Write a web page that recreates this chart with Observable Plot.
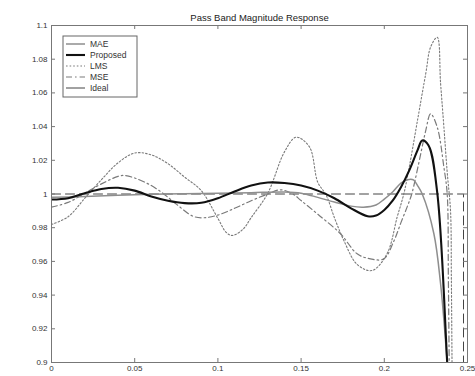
<!DOCTYPE html>
<html><head><meta charset="utf-8">
<script src="https://cdn.jsdelivr.net/npm/d3@7"></script>
<script src="https://cdn.jsdelivr.net/npm/@observablehq/plot@0.6"></script>
<style>body{margin:0;background:#fff;}</style>
</head><body><div id="chart"></div>
<script>
const title = "Pass Band Magnitude Response";
const seriesNames = ["MAE", "Proposed", "LMS", "MSE", "Ideal"];
const xTicks = [0, 0.05, 0.1, 0.15, 0.2, 0.25];
const xTickLabels = ["0", "0.05", "0.1", "0.15", "0.2", "0.25"];
const yTicks = [0.9, 0.92, 0.94, 0.96, 0.98, 1, 1.02, 1.04, 1.06, 1.08, 1.1];
const yTickLabels = ["0.9", "0.92", "0.94", "0.96", "0.98", "1", "1.02", "1.04", "1.06", "1.08", "1.1"];

const maeX = [0, 0.02, 0.04, 0.06, 0.08, 0.1, 0.12, 0.14, 0.15, 0.16, 0.17, 0.18, 0.1875, 0.195, 0.2, 0.205, 0.21, 0.214, 0.2175, 0.22, 0.2228, 0.2298, 0.2338, 0.2378, 0.24];
const maeY = [0.998, 0.9985, 0.9992, 0.9998, 1.0002, 1.0004, 1.0008, 1.0012, 1.0005, 0.998, 0.9952, 0.9928, 0.9922, 0.9935, 0.997, 1.0012, 1.0065, 1.0085, 1.0084, 1.005, 1.0, 0.9764, 0.9469, 0.9, 0.87];

const propX = [0, 0.01, 0.02, 0.03, 0.04, 0.05, 0.06, 0.07, 0.08, 0.09, 0.1, 0.11, 0.12, 0.13, 0.14, 0.15, 0.16, 0.17, 0.18, 0.19, 0.195, 0.2, 0.205, 0.21, 0.215, 0.22, 0.2228, 0.2266, 0.2318, 0.2378, 0.24];
const propY = [0.9967, 0.9975, 1.0005, 1.003, 1.0037, 1.002, 0.9985, 0.996, 0.9946, 0.9948, 0.9975, 1.0015, 1.005, 1.0068, 1.0065, 1.005, 1.002, 0.9975, 0.9915, 0.9868, 0.9872, 0.9905, 0.996, 1.004, 1.014, 1.026, 1.0318, 1.0288, 1.0009, 0.9, 0.86];

const lmsX = [0, 0.01, 0.02, 0.03, 0.04, 0.05, 0.06, 0.07, 0.08, 0.09, 0.1, 0.105, 0.1086, 0.115, 0.12, 0.13, 0.14, 0.147, 0.155, 0.16, 0.165, 0.17, 0.1757, 0.1837, 0.1927, 0.2017, 0.2077, 0.2117, 0.215, 0.22, 0.225, 0.2278, 0.2318, 0.2338, 0.2358, 0.2378, 0.2398, 0.2403, 0.2407, 0.241];
const lmsY = [0.9819, 0.9865, 0.9975, 1.0085, 1.0185, 1.0243, 1.0232, 1.018, 1.010, 1.002, 0.9855, 0.9772, 0.9754, 0.979, 0.986, 1.0005, 1.025, 1.0337, 1.028, 1.007, 0.9995, 0.986, 0.9724, 0.9582, 0.9546, 0.9647, 0.9862, 1.0, 1.016, 1.044, 1.072, 1.0871, 1.093, 1.066, 1.040, 1.013, 0.99, 0.95, 0.9, 0.85];

const mseX = [0, 0.01, 0.02, 0.03, 0.04, 0.0435, 0.05, 0.06, 0.0675, 0.075, 0.085, 0.0916, 0.1, 0.11, 0.12, 0.13, 0.1376, 0.145, 0.15, 0.16, 0.1737, 0.1837, 0.1917, 0.1997, 0.2057, 0.21, 0.214, 0.2165, 0.22, 0.225, 0.2278, 0.2318, 0.2358, 0.2378, 0.2385, 0.239, 0.2395];
const mseY = [0.9922, 0.995, 1.0005, 1.006, 1.0105, 1.011, 1.0095, 1.005, 1.0, 0.994, 0.9868, 0.9859, 0.9875, 0.9915, 0.996, 1.0, 1.0025, 1.0, 0.9961, 0.988, 0.9764, 0.9645, 0.9615, 0.9615, 0.972, 0.983, 0.993, 1.0, 1.015, 1.038, 1.0476, 1.0397, 1.016, 1.0, 0.95, 0.9, 0.85];

const idealX = [0, 0.2476, 0.2476];
const idealY = [1, 1, 0.85];

const styles = {
  MAE:      {stroke: "#8e8e8e", strokeWidth: 1.5, dash: null},
  Proposed: {stroke: "#111111", strokeWidth: 2.1, dash: null},
  LMS:      {stroke: "#7a7a7a", strokeWidth: 1.1, dash: "1.6,2"},
  MSE:      {stroke: "#7a7a7a", strokeWidth: 1.2, dash: "6,3,1.6,3"},
  Ideal:    {stroke: "#444444", strokeWidth: 1,   dash: "9,5"}
};

const seriesData = {
  MAE: [maeX, maeY], Proposed: [propX, propY], LMS: [lmsX, lmsY], MSE: [mseX, mseY], Ideal: [idealX, idealY]
};
const rows = name => seriesData[name][0].map((x, i) => ({x, y: seriesData[name][1][i]}));

const W = 475, H = 376, mL = 51, mR = 8, mT = 25, mB = 14;
const fw = W - mL - mR, fh = H - mT - mB, tk = 4;
const xLab = new Map(xTicks.map((d, i) => [d, xTickLabels[i]]));
const yLab = new Map(yTicks.map((d, i) => [d, yTickLabels[i]]));

const lineMarks = ["Ideal", "MSE", "LMS", "MAE", "Proposed"].map(name => {
  const s = styles[name];
  return Plot.line(rows(name), {x: "x", y: "y", stroke: s.stroke, strokeWidth: s.strokeWidth,
    strokeDasharray: s.dash, curve: name === "Ideal" ? "linear" : "catmull-rom", clip: true});
});

const plot = Plot.plot({
  width: W, height: H,
  marginLeft: mL, marginRight: mR, marginTop: mT, marginBottom: mB,
  style: {fontFamily: "'Liberation Sans', Arial, sans-serif", fontSize: "8px", background: "#fff", color: "#333"},
  x: {domain: [0, 0.25]},
  y: {domain: [0.9, 1.1]},
  marks: [
    ...lineMarks,
    Plot.tickY(yTicks.slice(1, -1), {y: d => d, stroke: "#777", insetRight: fw - tk}),
    Plot.tickY(yTicks.slice(1, -1), {y: d => d, stroke: "#777", insetLeft: fw - tk}),
    Plot.tickX(xTicks.slice(1, -1), {x: d => d, stroke: "#777", insetBottom: fh - tk}),
    Plot.tickX(xTicks.slice(1, -1), {x: d => d, stroke: "#777", insetTop: fh - tk}),
    Plot.frame({stroke: "#777"}),
    Plot.axisX({ticks: xTicks, tickFormat: d => xLab.get(d), tickSize: 0, tickPadding: 3, fontSize: 8, label: null, fill: "#333"}),
    Plot.axisY({ticks: yTicks, tickFormat: d => yLab.get(d), tickSize: 0, tickPadding: 4, fontSize: 8, label: null, fill: "#333"}),
    Plot.text([title], {frameAnchor: "top", dy: -11, fontSize: 9.5, fill: "#222"})
  ]
});

// Legend (matlab-style box in upper left)
const svg = d3.select(plot);
const lg = svg.append("g").attr("transform", "translate(63,36)");
lg.append("rect").attr("width", 74).attr("height", 61).attr("fill", "#fff").attr("stroke", "#666").attr("stroke-width", 1);
seriesNames.forEach((name, i) => {
  const s = styles[name];
  const yy = 8 + i * 11;
  lg.append("line").attr("x1", 3).attr("x2", 22).attr("y1", yy).attr("y2", yy)
    .attr("stroke", s.stroke).attr("stroke-width", s.strokeWidth)
    .attr("stroke-dasharray", name === "Ideal" ? null : s.dash);
  lg.append("text").attr("x", 27).attr("y", yy).attr("dy", "0.35em")
    .attr("text-anchor", "start")
    .attr("font-size", 8.5).attr("fill", "#333").text(name);
});

document.getElementById("chart").append(plot);
</script>
</body></html>
